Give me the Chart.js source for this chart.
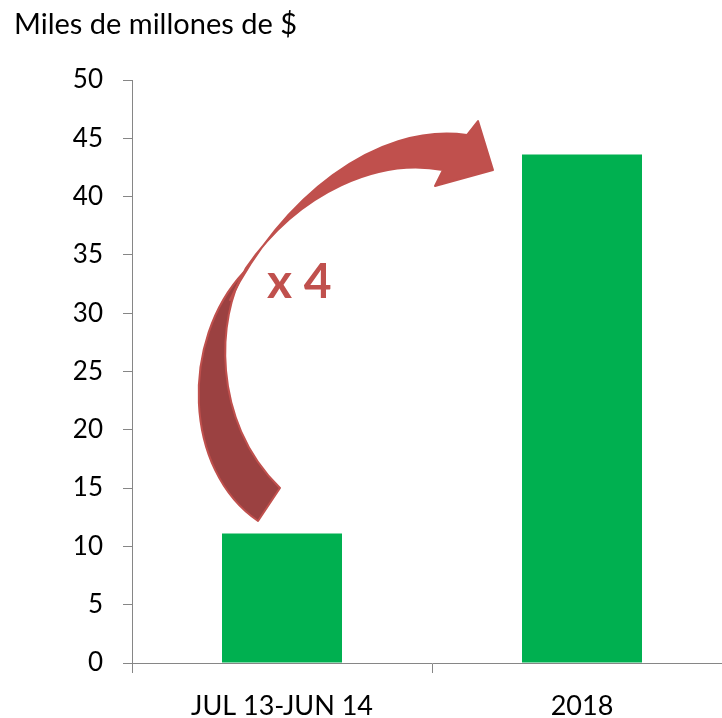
<!DOCTYPE html>
<html>
<head>
<meta charset="utf-8">
<script src="https://cdn.jsdelivr.net/npm/chart.js@4/dist/chart.umd.min.js"></script>
<style>
    html, body { margin: 0; padding: 0; background: #fff; overflow: hidden; }
    #wrap { width: 732px; height: 718px; }
</style>
</head>
<body>
<div id="wrap"><canvas id="chart" width="732" height="718"></canvas></div>
<script>
/* ============================================= */
/*                    Data                       */
/* ============================================= */

const categories = ["JUL 13-JUN 14", "2018"];
const values = [11.1, 43.6];
const yTicks = [0, 5, 10, 15, 20, 25, 30, 35, 40, 45, 50];

const unitLabel = "Miles de millones de $";
const growthLabel = "x 4";

const FONT = "Lato, 'Open Sans', sans-serif";
const AXIS_GREY = '#868686';

/* ============================================= */
/*           Title + curved arrow plugin         */
/* ============================================= */

const decorations = {
    id: 'decorations',
    afterDraw(chart) {
        const ctx = chart.ctx;
        ctx.save();

        // unit title top left
        ctx.fillStyle = '#000';
        ctx.font = "29px " + FONT;
        ctx.textAlign = 'left';
        ctx.textBaseline = 'middle';
        ctx.fillText(unitLabel, 14, 25);

        // twisted ribbon, lower (dark) half
        ctx.lineWidth = 2;
        ctx.lineJoin = 'round';
        ctx.strokeStyle = '#C0504D';
        ctx.fillStyle = '#9B4141';
        ctx.beginPath();
        ctx.moveTo(258, 521);
        ctx.bezierCurveTo(183, 470, 180, 340, 244, 272);
        ctx.bezierCurveTo(218, 315, 210, 420, 280, 488);
        ctx.closePath();
        ctx.fill();
        ctx.stroke();

        // upper half with arrow head
        ctx.fillStyle = '#C0504D';
        ctx.beginPath();
        ctx.moveTo(230, 300);
        ctx.bezierCurveTo(280, 200, 375, 122, 467, 135);
        ctx.lineTo(478, 121);
        ctx.lineTo(493, 170);
        ctx.lineTo(435, 186);
        ctx.lineTo(443, 170);
        ctx.bezierCurveTo(380, 158, 300, 190, 246, 268);
        ctx.closePath();
        ctx.fill();
        ctx.stroke();

        // growth label
        ctx.fillStyle = '#C0504D';
        ctx.font = "bold 48px " + FONT;
        ctx.textAlign = 'left';
        ctx.textBaseline = 'alphabetic';
        ctx.fillText(growthLabel, 267, 298);

        ctx.restore();
    }
};

/* ============================================= */
/*                  Bar Chart                    */
/* ============================================= */

const chartCanvas = document.getElementById('chart');

const barData = {
    labels: categories,
    datasets: [{
        data: values,
        backgroundColor: '#00B050',
        borderWidth: 0,
        barPercentage: 0.4,
        categoryPercentage: 1
    }]
};

const barOptions = {
    responsive: false,
    animation: false,
    layout: {
        padding: { top: 80, right: 0, bottom: 0, left: 0 }
    },
    scales: {
        x: {
            grid: {
                offset: true,
                drawOnChartArea: false,
                drawTicks: true,
                tickLength: 10,
                color: AXIS_GREY
            },
            border: { display: true, color: AXIS_GREY, width: 1 },
            ticks: {
                color: '#000',
                padding: 17,
                maxRotation: 0,
                font: { family: FONT, size: 27 }
            },
            afterFit(scale) { scale.height = 55; }
        },
        y: {
            min: 0,
            max: 50,
            afterBuildTicks(scale) {
                scale.ticks = yTicks.map(v => ({ value: v }));
            },
            grid: {
                drawOnChartArea: false,
                drawTicks: true,
                tickLength: 9,
                color: AXIS_GREY
            },
            border: { display: true, color: AXIS_GREY, width: 1 },
            ticks: {
                color: '#000',
                padding: 20,
                font: { family: FONT, size: 26 }
            },
            afterFit(scale) { scale.width = 132; }
        }
    },
    plugins: {
        legend: { display: false },
        tooltip: { enabled: false }
    }
};

let barChart = new Chart(chartCanvas, {
    type: 'bar',
    data: barData,
    options: barOptions,
    plugins: [decorations]
});
</script>
</body>
</html>
